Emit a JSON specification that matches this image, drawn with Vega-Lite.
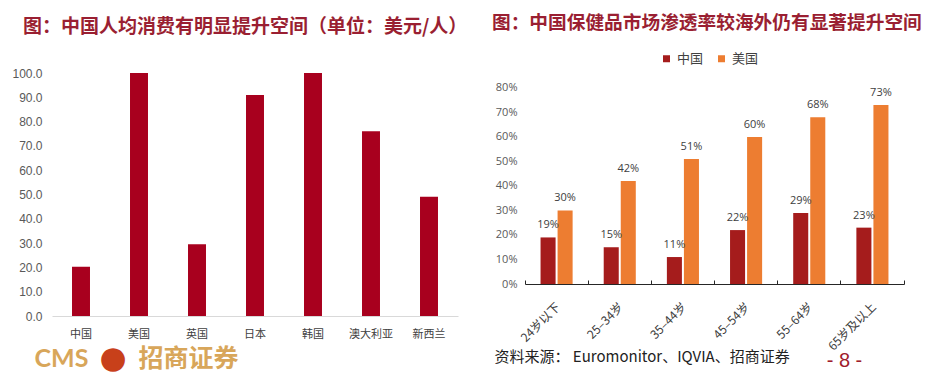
{
  "$schema": "https://vega.github.io/schema/vega-lite/v6.json",
  "background": "white",
  "padding": {"left": 11, "top": 14, "right": 0, "bottom": 0},
  "config": {"view": {"stroke": null}, "font": "Noto Sans CJK SC", "axis": {"grid": false}},
  "columns": 2,
  "align": "none",
  "spacing": 24,
  "resolve": {"scale": {"color": "independent"}, "legend": {"color": "independent"}},
  "concat": [
    {
      "width": 406,
      "height": 243,
      "title": {"text": "图：中国人均消费有明显提升空间（单位：美元/人）", "anchor": "start", "frame": "group", "dx": -29, "offset": 30, "fontSize": 19, "fontWeight": "bold", "color": "#9A1F32", "font": "Noto Sans CJK SC"},
      "data": {"values": [
        {"国家": "中国", "value": 20.3},
        {"国家": "美国", "value": 100},
        {"国家": "英国", "value": 29.5},
        {"国家": "日本", "value": 90.9},
        {"国家": "韩国", "value": 100},
        {"国家": "澳大利亚", "value": 76},
        {"国家": "新西兰", "value": 49.1}
      ]},
      "mark": {"type": "bar", "color": "#A8001E"},
      "encoding": {
        "x": {"field": "国家", "type": "nominal", "sort": null,
          "scale": {"paddingInner": 0.69, "paddingOuter": 0.345},
          "axis": {"labelAngle": 0, "labelFontSize": 11, "labelColor": "#404040", "labelPadding": 12, "ticks": false, "tickSize": 0, "domainColor": "#D9D9D9",
            "title": "CMS　　招商证券", "titleX": -18, "titleY": 42, "titleAlign": "left", "titleBaseline": "middle", "titleFontSize": 25, "titleFont": "Lato, Noto Sans CJK SC", "titleFontWeight": "bold", "titleColor": "#D8A65A"}},
        "y": {"field": "value", "type": "quantitative", "scale": {"domain": [0, 100]},
          "axis": {"values": [0, 10, 20, 30, 40, 50, 60, 70, 80, 90, 100], "format": ".1f", "domain": false, "ticks": false, "tickSize": 0, "labelFontSize": 12, "labelColor": "#595959", "labelPadding": 10, "labelFont": "Liberation Sans",
            "title": "●", "titleAngle": 0, "titleX": 60.5, "titleY": 285, "titleAlign": "center", "titleBaseline": "middle", "titleFontSize": 31, "titleFont": "DejaVu Sans", "titleFontWeight": "normal", "titleColor": "#C8401A"}}
      }
    },
    {
      "width": 379,
      "height": 211,
      "title": {"text": "图：中国保健品市场渗透率较海外仍有显著提升空间", "anchor": "start", "frame": "group", "dx": -33, "offset": 19, "fontSize": 18.7, "fontWeight": "bold", "color": "#9A1F32", "font": "Noto Sans CJK SC"},
      "data": {"values": [
        {"age": "24岁以下", "country": "中国", "v": 0.19},
        {"age": "24岁以下", "country": "美国", "v": 0.30},
        {"age": "25–34岁", "country": "中国", "v": 0.15},
        {"age": "25–34岁", "country": "美国", "v": 0.42},
        {"age": "35–44岁", "country": "中国", "v": 0.11},
        {"age": "35–44岁", "country": "美国", "v": 0.51},
        {"age": "45–54岁", "country": "中国", "v": 0.22},
        {"age": "45–54岁", "country": "美国", "v": 0.60},
        {"age": "55–64岁", "country": "中国", "v": 0.29},
        {"age": "55–64岁", "country": "美国", "v": 0.68},
        {"age": "65岁及以上", "country": "中国", "v": 0.23},
        {"age": "65岁及以上", "country": "美国", "v": 0.73}
      ]},
      "encoding": {
        "x": {"field": "age", "type": "nominal", "sort": null,
          "scale": {"paddingInner": 0, "paddingOuter": 0},
          "axis": {"bandPosition": 1, "tickExtra": true, "labelOffset": -2, "labelAngle": -45, "labelFontSize": 12, "labelColor": "#404040", "labelPadding": 21, "tickSize": -4, "tickColor": "#262626", "domainColor": "#262626",
            "title": "资料来源：  Euromonitor、IQVIA、招商证券", "titleX": -31, "titleY": 72, "titleAlign": "left", "titleBaseline": "middle", "titleFontSize": 15, "titleFontWeight": "normal", "titleColor": "#222222", "titleFont": "Noto Sans CJK SC"}},
        "xOffset": {"field": "country", "sort": ["中国", "美国"], "scale": {"paddingInner": 0.1176, "paddingOuter": 0.912}},
        "y": {"field": "v", "type": "quantitative", "scale": {"domain": [0, 0.861], "nice": false},
          "axis": {"values": [0, 0.1, 0.2, 0.3, 0.4, 0.5, 0.6, 0.7, 0.8], "format": ".0%", "domain": false, "ticks": false, "tickSize": 0, "labelFontSize": 11, "labelColor": "#595959", "labelPadding": 8, "labelFont": "Open Sans",
            "title": "- 8 -", "titleAngle": 0, "titleX": 319, "titleY": 287, "titleAlign": "center", "titleBaseline": "middle", "titleFontSize": 20, "titleFontWeight": "normal", "titleColor": "#A01C2C", "titleFont": "Liberation Sans"}}
      },
      "layer": [
        {
          "mark": {"type": "bar"},
          "encoding": {
            "color": {"field": "country", "type": "nominal", "scale": {"domain": ["中国", "美国"], "range": ["#A51C1C", "#ED7D31"]},
              "legend": {"orient": "none", "legendX": 135, "legendY": -21, "direction": "horizontal", "title": null, "symbolType": "square", "symbolSize": 49, "symbolStrokeWidth": 0, "labelFontSize": 13, "labelColor": "#404040", "labelOffset": 4, "columnPadding": 11}}
          }
        },
        {
          "mark": {"type": "text", "dy": -12, "fontSize": 11, "font": "Open Sans", "color": "#404040"},
          "encoding": {"text": {"field": "v", "format": ".0%"}}
        }
      ]
    }
  ]
}
